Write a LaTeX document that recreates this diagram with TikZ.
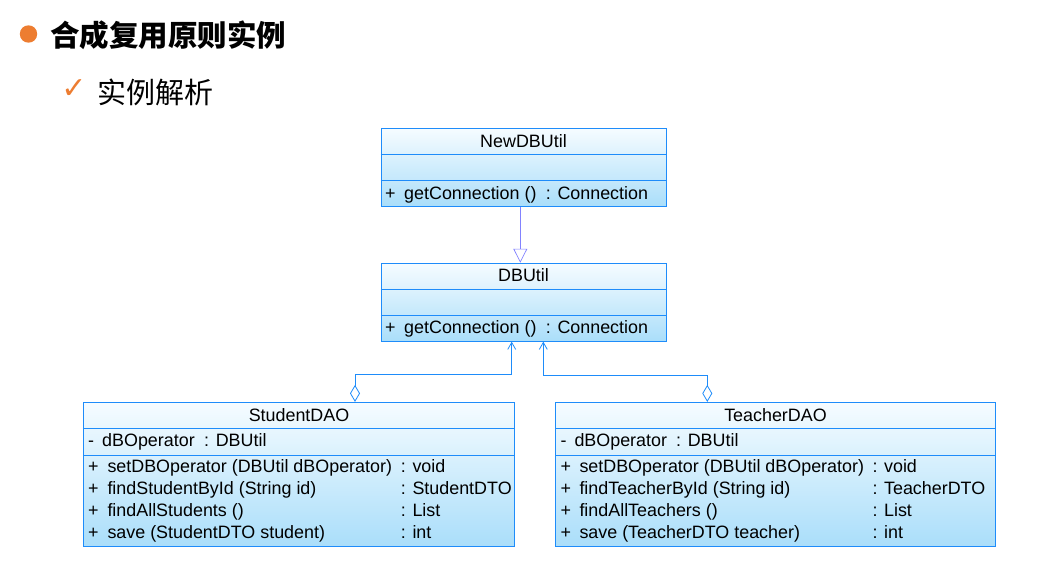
\documentclass[tikz,border=0pt]{standalone}
\usepackage{fontspec}
\setmainfont{Liberation Sans}
\newfontfamily\cjk{Noto Sans CJK SC}
\newfontfamily\symb{DejaVu Sans}
\usetikzlibrary{arrows.meta}

\definecolor{umlblue}{RGB}{30,140,250}
\definecolor{umltop}{RGB}{246,252,255}
\definecolor{umlbottom}{RGB}{170,222,250}
\definecolor{genline}{RGB}{130,130,255}
\definecolor{bulletorange}{RGB}{237,125,49}

\tikzset{
    umlclass/.style={draw=umlblue, line width=0.9pt, top color=umltop, bottom color=umlbottom, inner sep=0pt},
    umltext/.style={anchor=base west, inner sep=0pt, font=\fontsize{17.9}{21}\selectfont},
    umltitle/.style={anchor=base, inner sep=0pt, font=\fontsize{17.9}{21}\selectfont},
    divider/.style={draw=umlblue, line width=0.9pt},
    generalize/.style={draw=genline, line width=0.7pt, -{Triangle[length=14pt, width=14pt, fill=white]}},
    aggregate/.style={draw=umlblue, line width=0.8pt, {Straight Barb[length=7pt, width=8pt]}-{Diamond[length=17pt, width=10pt, fill=white]}}
}

\begin{document}
\begin{tikzpicture}[x=1pt, y=-1pt]
    \useasboundingbox (0,0) rectangle (1037,573);

    % Heading
    \fill[bulletorange] (28.5,34) circle (8.7);
    \node[anchor=base west, inner sep=0pt, font=\cjk\bfseries\fontsize{29.5}{32}\selectfont] (title) at (50,46.5) {合成复用原则实例};
    \node[inner sep=0pt, text=bulletorange, font=\symb\bfseries\fontsize{30}{32}\selectfont] (check) at (74,89.5) {✓};
    \node[anchor=base west, inner sep=0pt, font=\cjk\fontsize{29}{32}\selectfont] (subtitle) at (97,103) {实例解析};

    % NewDBUtil
    \node[umlclass, minimum width=285, minimum height=78] (newdb) at (523.5,167.3) {};
    \draw[divider] (newdb.west |- 0,154.3) -- (newdb.east |- 0,154.3);
    \draw[divider] (newdb.west |- 0,180.7) -- (newdb.east |- 0,180.7);
    \node[umltitle] (newdb-name) at (523.5,147) {NewDBUtil};
    \node[umltext] (newdb-vis) at (385,199) {+};
    \node[umltext] (newdb-op) at (404,199) {getConnection ()};
    \node[umltext] (newdb-ret) at (545.7,199) {: Connection};

    % DBUtil
    \node[umlclass, minimum width=285, minimum height=78] (dbutil) at (523.5,302.2) {};
    \draw[divider] (dbutil.west |- 0,289.3) -- (dbutil.east |- 0,289.3);
    \draw[divider] (dbutil.west |- 0,315.7) -- (dbutil.east |- 0,315.7);
    \node[umltitle] (dbutil-name) at (523.5,281.5) {DBUtil};
    \node[umltext] (dbutil-vis) at (385,333.5) {+};
    \node[umltext] (dbutil-op) at (404,333.5) {getConnection ()};
    \node[umltext] (dbutil-ret) at (545.7,333.5) {: Connection};

    % StudentDAO
    \node[umlclass, minimum width=431.4, minimum height=143.7] (student) at (299,474.2) {};
    \draw[divider] (student.west |- 0,428.3) -- (student.east |- 0,428.3);
    \draw[divider] (student.west |- 0,455.3) -- (student.east |- 0,455.3);
    \node[umltitle] (student-name) at (299,421) {StudentDAO};
    \node[umltext] (student-avis) at (88,446.5) {-};
    \node[umltext] (student-attr) at (102,446.5) {dBOperator};
    \node[umltext] (student-atype) at (204,446.5) {: DBUtil};
    \foreach \op/\ret [count=\i] in {{setDBOperator (DBUtil dBOperator)}/void,
                                    {findStudentById (String id)}/StudentDTO,
                                    {findAllStudents ()}/List,
                                    {save (StudentDTO student)}/int} {
        \node[umltext] (student-vis\i) at (88,{450.5+22*\i}) {+};
        \node[umltext] (student-op\i) at (107.3,{450.5+22*\i}) {\op};
        \node[umltext] (student-ret\i) at (400.7,{450.5+22*\i}) {: \ret};
    }

    % TeacherDAO
    \node[umlclass, minimum width=439.6, minimum height=143.7] (teacher) at (775.5,474.2) {};
    \draw[divider] (teacher.west |- 0,428.3) -- (teacher.east |- 0,428.3);
    \draw[divider] (teacher.west |- 0,455.3) -- (teacher.east |- 0,455.3);
    \node[umltitle] (teacher-name) at (775.5,421) {TeacherDAO};
    \node[umltext] (teacher-avis) at (560.5,446.5) {-};
    \node[umltext] (teacher-attr) at (574.3,446.5) {dBOperator};
    \node[umltext] (teacher-atype) at (676,446.5) {: DBUtil};
    \foreach \op/\ret [count=\i] in {{setDBOperator (DBUtil dBOperator)}/void,
                                    {findTeacherById (String id)}/TeacherDTO,
                                    {findAllTeachers ()}/List,
                                    {save (TeacherDTO teacher)}/int} {
        \node[umltext] (teacher-vis\i) at (560.5,{450.5+22*\i}) {+};
        \node[umltext] (teacher-op\i) at (579.3,{450.5+22*\i}) {\op};
        \node[umltext] (teacher-ret\i) at (872.3,{450.5+22*\i}) {: \ret};
    }

    % Relations
    \draw[generalize] ([xshift=-3.2pt]newdb.south) -- ([xshift=-3.2pt]dbutil.north);
    \draw[aggregate] ([xshift=-11.8pt]dbutil.south) -- ++(0,33) -| (student.north -| 355,0);
    \draw[aggregate] ([xshift=19.8pt]dbutil.south) -- ++(0,34) -| (teacher.north -| 707.3,0);
\end{tikzpicture}
\end{document}
